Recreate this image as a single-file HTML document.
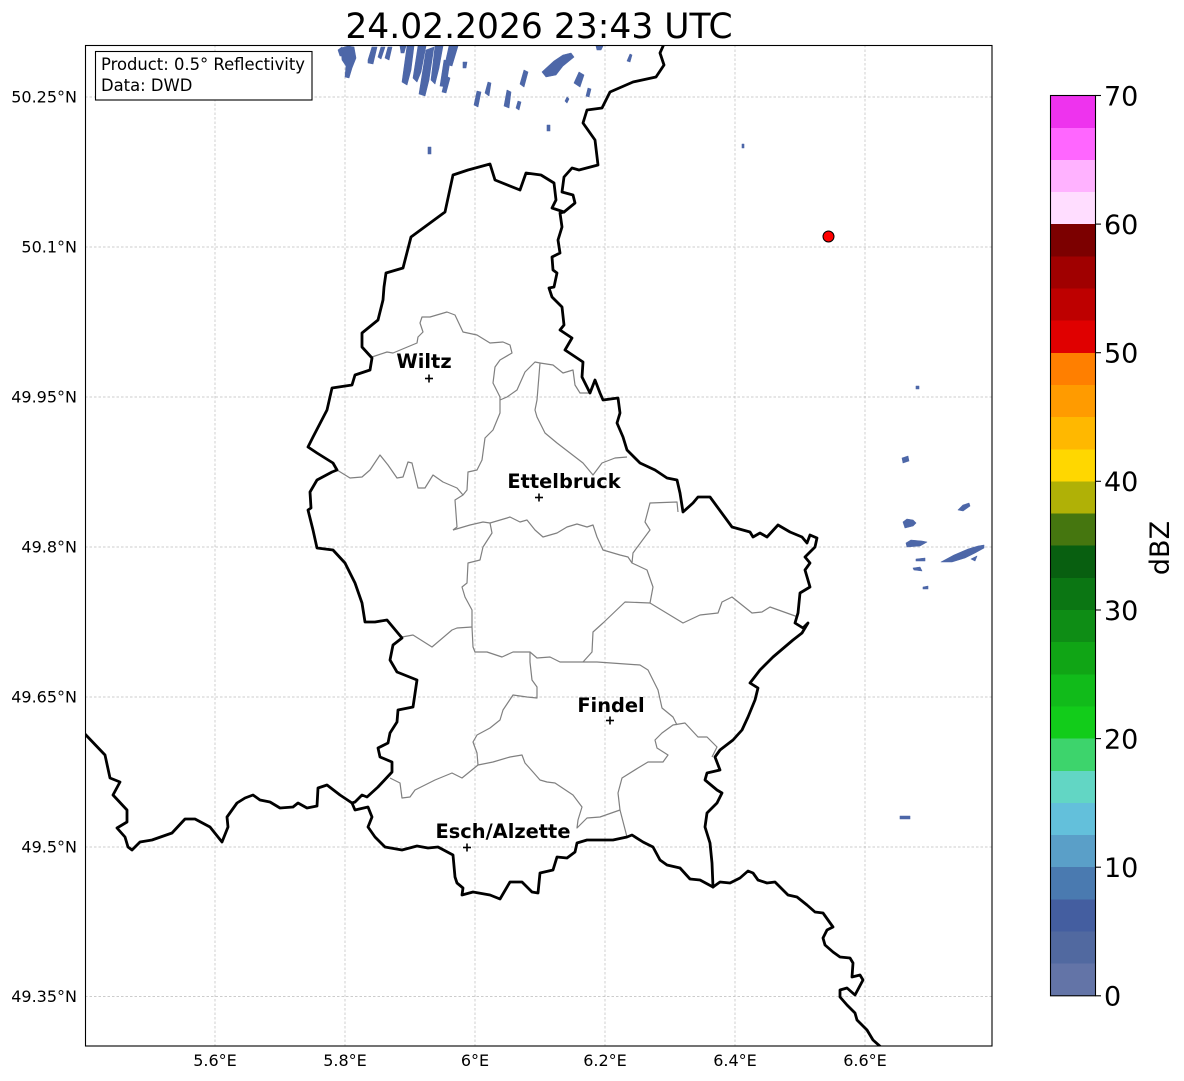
<!DOCTYPE html>
<html><head><meta charset="utf-8"><style>
html,body{margin:0;padding:0;background:#fff;}
svg{display:block;}
text{font-family:"DejaVu Sans","Liberation Sans",sans-serif;}
</style></head><body>
<svg width="1184" height="1081" viewBox="0 0 1184 1081" xmlns="http://www.w3.org/2000/svg">
<rect width="1184" height="1081" fill="#fff"/>
<text x="539" y="38" font-size="34.5" text-anchor="middle" fill="#000">24.02.2026 23:43 UTC</text>
<defs><clipPath id="ax"><rect x="85.5" y="45.5" width="906.5" height="1000.5"/></clipPath></defs>
<g clip-path="url(#ax)">
<g stroke="#bcbcbc" stroke-width="0.7" stroke-dasharray="2.5,2" fill="none">
<line x1="215" y1="45" x2="215" y2="1046"/><line x1="345" y1="45" x2="345" y2="1046"/><line x1="475" y1="45" x2="475" y2="1046"/><line x1="605" y1="45" x2="605" y2="1046"/><line x1="735" y1="45" x2="735" y2="1046"/><line x1="865" y1="45" x2="865" y2="1046"/>
<line x1="85" y1="97" x2="992" y2="97"/><line x1="85" y1="247" x2="992" y2="247"/><line x1="85" y1="397" x2="992" y2="397"/><line x1="85" y1="547" x2="992" y2="547"/><line x1="85" y1="697" x2="992" y2="697"/><line x1="85" y1="847" x2="992" y2="847"/><line x1="85" y1="996.5" x2="992" y2="996.5"/>
</g>
<g fill="#4d67a8" stroke="#4d67a8" stroke-width="0.6" stroke-linejoin="round">
<polygon points="341,48 348,46 354,47 356,58 352,68 349,78 345,77 346,66 342,60"/>
<polygon points="338,50 342,47 344,56 340,56"/>
<polygon points="368,60 372,47 377,47 373,64 368,63"/>
<polygon points="378,57 381,47 385,47 381,59"/>
<polygon points="385,58 388,47 392,47 389,60"/>
<polygon points="402,82 407,46 414,46 411,70 407,85"/>
<polygon points="413,78 418,46 426,46 421,72 417,82"/>
<polygon points="419,94 426,50 434,47 429,80 425,96"/>
<polygon points="431,80 435,46 443,46 439,68 435,84"/>
<polygon points="440,86 444,60 450,61 446,87"/>
<polygon points="445,64 449,46 458,46 452,66"/>
<polygon points="442,92 446,76 450,78 446,93"/>
<polygon points="400,46 406,46 404,53 401,53"/>
<polygon points="463,62 467,62 466,68 463,68"/>
<polygon points="474,105 477,91 481,92 478,107"/>
<polygon points="485,93 488,82 491,83 489,96"/>
<polygon points="504,106 507,90 511,92 509,108"/>
<polygon points="516,108 518,101 521,102 519,110"/>
<polygon points="520,84 524,70 528,72 524,87"/>
<polygon points="542,72 554,61 563,55 571,53 574,57 563,66 556,75 546,77"/>
<polygon points="574,83 579,72 584,75 580,87"/>
<polygon points="586,96 588,88 591,89 589,97"/>
<polygon points="565,101 567,97 569,99 567,103"/>
<polygon points="547,125 550,125 550,131 547,131"/>
<polygon points="428,147 431,147 431,154 428,154"/>
<polygon points="596,46 603,46 601,50 597,50"/>
<polygon points="627,61 630,54 632,55 630,62"/>
<polygon points="742,144 744,144 744,148 742,148"/>
<polygon points="916,386 919,386 919,389 916,389"/>
<polygon points="902,458 908,456 909,461 903,463"/>
<polygon points="958,510 963,505 969,503 970,506 963,511"/>
<polygon points="903,522 907,519 913,520 916,523 913,526 905,528"/>
<polygon points="906,543 911,540 922,541 927,542 920,546 907,547"/>
<polygon points="916,559 925,558 925,561 916,561"/>
<polygon points="913,568 920,567 922,571 914,570"/>
<polygon points="923,587 928,586 928,589 923,589"/>
<polygon points="941,562 954,555 968,549 978,546 984,545 984,548 975,553 965,558 952,562"/>
<polygon points="971,559 977,556 975,561"/>
<polygon points="900,816 910,816 910,819 900,819"/>
</g>
<g fill="none" stroke="#808080" stroke-width="1.2" stroke-linejoin="round">
<polyline points="372,357 387,352 393,353 405,348 417,343 418,337 423,332 420,323 422,317 430,317 447,312 455,315 463,332 477,335 490,343 503,342 510,345 512,353 500,360 495,367 493,383 500,397 500,413 493,430 485,438 482,460 477,470 468,472 467,490 463,495 455,500 457,527 453,530"/>
<polyline points="337,470 350,478 362,477 370,470 380,455 388,465 397,478 403,477 408,462 412,463 418,488 425,488 433,475 443,482 457,488 463,495"/>
<polyline points="500,400 507,397 517,390 525,372 535,362 540,363 537,400 535,410 537,417 545,433 557,443 570,453 583,463 593,475 602,463 615,458 627,457"/>
<polyline points="540,363 553,365 563,373 573,370 575,385 580,393 590,393"/>
<polyline points="453,530 470,525 483,522 490,523 507,518 510,517 520,522 527,520 535,530 543,537 557,533 567,527 577,524 587,527 593,525 597,537 603,550 620,555 628,557 632,563 647,570 653,587 650,603"/>
<polyline points="632,563 633,553 650,530 645,522 650,503 677,502 678,512"/>
<polyline points="650,603 683,623 700,615 718,613 722,602 732,597 752,613 762,612 770,607 798,617"/>
<polyline points="650,603 625,602 603,623 593,632 592,652 583,662"/>
<polyline points="490,523 492,533 483,547 480,560 468,563 467,583 462,587 465,597 472,610 472,627 473,647 475,652 487,652 502,657 513,652 530,652 537,658 550,657 560,662 583,662 597,662 640,665 648,670 658,690 662,708 673,717 677,725"/>
<polyline points="472,627 457,628 452,630 432,647 413,635 402,637"/>
<polyline points="530,652 530,662 532,680 537,687 537,698 527,697 513,695 503,710 500,720 490,728 477,735 473,742 477,753 478,765"/>
<polyline points="478,765 462,778 452,773 435,780 415,790 410,797 402,798 400,783 390,778"/>
<polyline points="478,765 493,762 510,757 522,755 525,763 533,772 540,780 547,782 555,783 573,795 582,807 578,820 577,828 587,818 600,817 620,810 627,837"/>
<polyline points="620,810 618,793 622,778 638,768 648,762 663,762 668,755 657,748 655,740 662,733 673,725 685,723 698,737 707,737 717,747 712,757"/>
</g>
<g fill="none" stroke="#000" stroke-width="2.8" stroke-linejoin="round" stroke-linecap="round">
<polyline points="664,44 660,53 664,65 656,77 633,82 610,92 602,108 587,110 583,123 595,140 598,165 579,170 572,168 564,177 562,192 573,195 575,203 564,212"/>
<polyline points="564,212 552,208 556,200 554,183 541,175 526,173 520,190 495,180 490,164 468,170 453,175 445,212 411,237 403,268 386,273 384,287 383,300 378,320 362,333 362,347 372,358 370,370 355,375 352,385 332,388 327,410 313,437 308,447 317,453 333,463 337,470 332,472 317,480 310,492 311,508 308,510 313,530 317,548 333,550 345,563 355,583 362,603 365,622 375,622 387,620 402,638 393,645 390,660 397,672 417,680 413,707 398,710 397,722 390,733 388,743 378,748 380,757 392,762 392,772 378,787 367,797 362,795 355,802 352,803"/>
<polyline points="564,212 560,213 562,227 558,240 560,253 552,257 553,270 557,273 554,287 549,288 552,297 562,307 564,325 560,330 572,338 565,350 583,362 582,377 590,393 595,380 600,393 603,400 618,398 620,413 617,423 623,437 627,450 640,463 655,470 667,478 677,480 680,493 683,512 693,503 698,497 710,497 732,527 750,532 753,537 760,533 767,537 778,525 790,532 802,537 807,543 810,535 817,538 815,547 805,557 810,563 805,570 810,587 800,593 798,613 795,623 803,628 808,623 802,633 793,640 773,657 760,670 750,683 758,688 755,700 748,717 742,730 733,740 720,750 715,757 720,770 707,773 705,780 717,790 722,793 717,803 707,813 705,827 710,843 712,863 713,887"/>
<polyline points="713,887 720,882 730,883 740,878 748,871 753,873 758,880 767,883 775,882 788,895 797,897 807,905 815,912 823,913 833,927 827,930 823,938 825,945 833,952 840,957 850,958 853,963 852,977 860,975 863,980 855,995 847,988 840,990 840,997 847,1005 855,1013 857,1020 867,1030 873,1040 882,1048"/>
<polyline points="352,803 355,810 368,807 372,817 368,827 375,837 385,847 402,850 417,846 428,848 438,847 453,855 455,877 457,883 463,888 462,895 473,892 490,895 500,899 510,882 522,882 532,892 538,893 540,873 553,870 557,857 567,858 575,852 577,843 587,840 613,840 627,837 632,835 643,842 653,847 660,860 667,865 680,868 690,879 700,880 713,887"/>
<polyline points="84,733 105,755 110,778 120,782 113,795 127,810 127,822 117,828 125,837 128,847 132,850 140,842 152,840 172,833 185,819 195,819 210,827 222,842 228,827 227,817 237,803 245,798 253,795 260,800 270,802 280,808 293,807 298,803 307,808 317,806 318,788 327,785 340,795 352,803"/>
</g>
<g stroke="#000" stroke-width="1.6">
<line x1="425" y1="378.5" x2="433" y2="378.5"/><line x1="429" y1="374.5" x2="429" y2="382.5"/>
<line x1="535" y1="497.5" x2="543" y2="497.5"/><line x1="539" y1="493.5" x2="539" y2="501.5"/>
<line x1="606" y1="720.5" x2="614" y2="720.5"/><line x1="610" y1="716.5" x2="610" y2="724.5"/>
<line x1="463" y1="847.5" x2="471" y2="847.5"/><line x1="467" y1="843.5" x2="467" y2="851.5"/>
</g>
<g font-size="19.4" font-weight="bold" text-anchor="middle" fill="#000">
<text x="424" y="368">Wiltz</text>
<text x="564" y="488">Ettelbruck</text>
<text x="611" y="712">Findel</text>
<text x="503" y="838">Esch/Alzette</text>
</g>
<circle cx="828.5" cy="236.5" r="5.5" fill="#ff0000" stroke="#000" stroke-width="1"/>
</g>
<rect x="85.5" y="45.5" width="906.5" height="1000.5" fill="none" stroke="#000" stroke-width="1.1"/>
<rect x="95.5" y="51.5" width="216.5" height="48.5" fill="#fff" stroke="#000" stroke-width="1.1"/>
<text x="101" y="70" font-size="16.4" fill="#000">Product: 0.5° Reflectivity</text>
<text x="101" y="91" font-size="16.4" fill="#000">Data: DWD</text>
<g font-size="16" fill="#000" text-anchor="end">
<text x="77" y="102.5">50.25°N</text>
<text x="77" y="252.5">50.1°N</text>
<text x="77" y="402.5">49.95°N</text>
<text x="77" y="552.5">49.8°N</text>
<text x="77" y="702.5">49.65°N</text>
<text x="77" y="852.5">49.5°N</text>
<text x="77" y="1002">49.35°N</text>
</g>
<g font-size="16" fill="#000" text-anchor="middle">
<text x="215" y="1066">5.6°E</text>
<text x="345" y="1066">5.8°E</text>
<text x="475" y="1066">6°E</text>
<text x="605" y="1066">6.2°E</text>
<text x="735" y="1066">6.4°E</text>
<text x="865" y="1066">6.6°E</text>
</g>
<g shape-rendering="crispEdges">
<rect x="1050.5" y="963.55" width="45" height="32.25" fill="#6374a7"/>
<rect x="1050.5" y="931.4" width="45" height="32.25" fill="#5169a0"/>
<rect x="1050.5" y="899.25" width="45" height="32.25" fill="#445ea0"/>
<rect x="1050.5" y="867.1" width="45" height="32.25" fill="#4a7ab0"/>
<rect x="1050.5" y="834.95" width="45" height="32.25" fill="#5a9fc8"/>
<rect x="1050.5" y="802.8" width="45" height="32.25" fill="#63c0db"/>
<rect x="1050.5" y="770.65" width="45" height="32.25" fill="#62d6c4"/>
<rect x="1050.5" y="738.5" width="45" height="32.25" fill="#3dd46c"/>
<rect x="1050.5" y="706.35" width="45" height="32.25" fill="#12cc1a"/>
<rect x="1050.5" y="674.2" width="45" height="32.25" fill="#11bb1a"/>
<rect x="1050.5" y="642.05" width="45" height="32.25" fill="#10a515"/>
<rect x="1050.5" y="609.9" width="45" height="32.25" fill="#0e8d15"/>
<rect x="1050.5" y="577.75" width="45" height="32.25" fill="#0b7613"/>
<rect x="1050.5" y="545.6" width="45" height="32.25" fill="#085f10"/>
<rect x="1050.5" y="513.45" width="45" height="32.25" fill="#45760f"/>
<rect x="1050.5" y="481.3" width="45" height="32.25" fill="#b0b106"/>
<rect x="1050.5" y="449.15" width="45" height="32.25" fill="#ffd700"/>
<rect x="1050.5" y="417" width="45" height="32.25" fill="#ffb800"/>
<rect x="1050.5" y="384.85" width="45" height="32.25" fill="#ff9b00"/>
<rect x="1050.5" y="352.7" width="45" height="32.25" fill="#ff7f00"/>
<rect x="1050.5" y="320.55" width="45" height="32.25" fill="#e00000"/>
<rect x="1050.5" y="288.4" width="45" height="32.25" fill="#be0000"/>
<rect x="1050.5" y="256.25" width="45" height="32.25" fill="#a00000"/>
<rect x="1050.5" y="224.1" width="45" height="32.25" fill="#7c0000"/>
<rect x="1050.5" y="191.95" width="45" height="32.25" fill="#ffddff"/>
<rect x="1050.5" y="159.8" width="45" height="32.25" fill="#ffb2ff"/>
<rect x="1050.5" y="127.65" width="45" height="32.25" fill="#ff66ff"/>
<rect x="1050.5" y="95.5" width="45" height="32.25" fill="#ee33ee"/>
</g>
<rect x="1050.5" y="95.5" width="45" height="900.3" fill="none" stroke="#000" stroke-width="1.1"/>
<g stroke="#000" stroke-width="1.1">
<line x1="1095.5" y1="995.8" x2="1101" y2="995.8"/>
<line x1="1095.5" y1="867.2" x2="1101" y2="867.2"/>
<line x1="1095.5" y1="738.6" x2="1101" y2="738.6"/>
<line x1="1095.5" y1="610" x2="1101" y2="610"/>
<line x1="1095.5" y1="481.3" x2="1101" y2="481.3"/>
<line x1="1095.5" y1="352.7" x2="1101" y2="352.7"/>
<line x1="1095.5" y1="224.1" x2="1101" y2="224.1"/>
<line x1="1095.5" y1="95.5" x2="1101" y2="95.5"/>
</g>
<g font-size="27" fill="#000">
<text x="1104" y="1005.5">0</text>
<text x="1104" y="877">10</text>
<text x="1104" y="748.5">20</text>
<text x="1104" y="620">30</text>
<text x="1104" y="491">40</text>
<text x="1104" y="362.5">50</text>
<text x="1104" y="234">60</text>
<text x="1104" y="105.5">70</text>
</g>
<text x="0" y="0" font-size="27" fill="#000" text-anchor="middle" transform="translate(1169,548) rotate(-90)">dBZ</text>
</svg>
</body></html>
